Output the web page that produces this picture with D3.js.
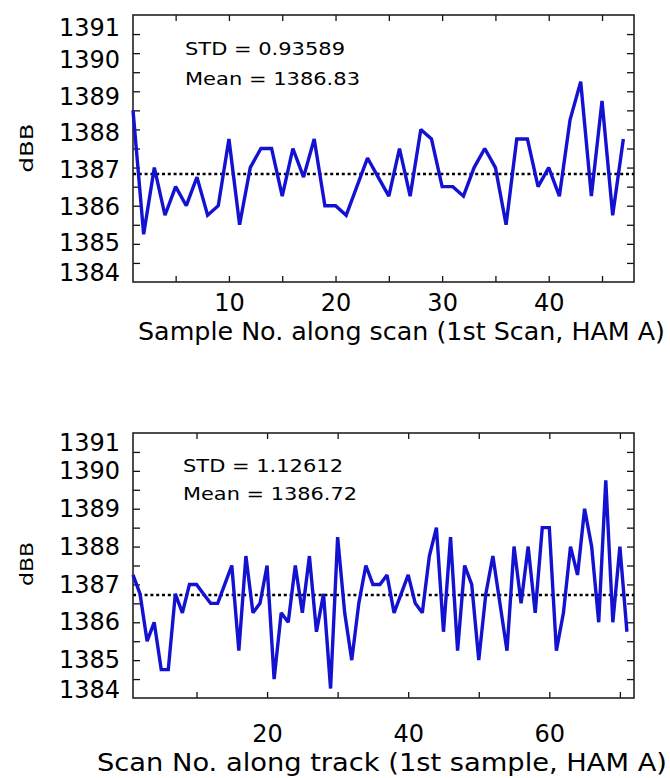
<!DOCTYPE html>
<html>
<head>
<meta charset="utf-8">
<script src="https://cdn.jsdelivr.net/npm/d3@7"></script>
<style>
  html, body { margin: 0; padding: 0; background: #fff; }
  svg { display: block; }
</style>
</head>
<body>
<svg id="chart" width="670" height="778"></svg>
<script>

// dBB of each sample along the 1st scan (HAM A)
const scanValues = [
  1388.5, 1385.25, 1387, 1385.75, 1386.5, 1386, 1386.75, 1385.75, 1386, 1387.75,
  1385.5, 1387, 1387.5, 1387.5, 1386.25, 1387.5, 1386.75, 1387.75, 1386, 1386,
  1385.75, 1386.5, 1387.25, 1386.75, 1386.25, 1387.5, 1386.25, 1388, 1387.75, 1386.5,
  1386.5, 1386.25, 1387, 1387.5, 1387, 1385.5, 1387.75, 1387.75, 1386.5, 1387,
  1386.25, 1388.25, 1389.25, 1386.25, 1388.75, 1385.75, 1387.75
];

// dBB of each scan along track (1st sample, HAM A)
const trackValues = [
  1387.25, 1386.75, 1385.5, 1386, 1384.75, 1384.75, 1386.75, 1386.25, 1387, 1387,
  1386.75, 1386.5, 1386.5, 1387, 1387.5, 1385.25, 1387.75, 1386.25, 1386.5, 1387.5,
  1384.5, 1386.25, 1386, 1387.5, 1386.25, 1387.75, 1385.75, 1386.75, 1384.25, 1388.25,
  1386.25, 1385, 1386.5, 1387.5, 1387, 1387, 1387.25, 1386.25, 1386.75, 1387.25,
  1386.5, 1386.25, 1387.75, 1388.5, 1385.75, 1388.25, 1385.25, 1387.5, 1387, 1385,
  1386.75, 1387.75, 1386.5, 1385.25, 1388, 1386.5, 1388, 1386.25, 1388.5, 1388.5,
  1385.25, 1386.25, 1388, 1387.25, 1389, 1388, 1386, 1389.75, 1386, 1388,
  1385.75
];

const scanStd = 0.93589;
const scanMean = 1386.83;
const trackStd = 1.12612;
const trackMean = 1386.72;

const yTickLabels = [1384, 1385, 1386, 1387, 1388, 1389, 1390, 1391];
const scanTickLabels = [10, 20, 30, 40];
const trackTickLabels = [20, 40, 60];

const panels = [
  {
    values: scanValues, std: scanStd, mean: scanMean,
    xDomain: [1, 48], xStep: 5, xLabels: scanTickLabels,
    title: "Sample No. along scan (1st Scan, HAM A)",
    top: 15, bottom: 282,
    yNudge: { first: 13, last: -9, base: -0.7, slope: 1.45 },
    xPad: 12, titleX: 138, titleY: 340, titleLen: 527,
    dbbY: 148, dbbLen: 49,
    statX: 185, statY: [55, 85], statLen: [160, 175]
  },
  {
    values: trackValues, std: trackStd, mean: trackMean,
    xDomain: [1, 72], xStep: 10, xLabels: trackTickLabels,
    title: "Scan No. along track (1st sample, HAM A)",
    top: 433, bottom: 698,
    yNudge: { first: 10, last: -8, base: 0, slope: 0 },
    xPad: 27, titleX: 97, titleY: 771, titleLen: 570,
    dbbY: 564, dbbLen: 44,
    statX: 183, statY: [472, 500], statLen: [160, 174]
  }
];

const svg = d3.select("#chart");
const left = 133;
const right = 634;
const font = "'DejaVu Sans', Verdana, sans-serif";

const drawPanel = (p) => {
  const x = d3.scaleLinear().domain(p.xDomain).range([left, right]);
  const y = d3.scaleLinear().domain([1384, 1391]).range([p.bottom, p.top]);
  const g = svg.append("g");

  // small inward ticks on all four sides
  const yMinor = d3.range(1384.5, 1391, 0.5);
  const xMinor = d3.range(p.xStep, p.xDomain[1], p.xStep);

  g.append("g").attr("transform", `translate(${left},0)`)
    .call(d3.axisLeft(y).tickValues(yMinor).tickSize(-7).tickFormat(""));
  g.append("g").attr("transform", `translate(${right},0)`)
    .call(d3.axisRight(y).tickValues(yMinor).tickSize(-7).tickFormat(""));
  g.append("g").attr("transform", `translate(0,${p.bottom})`)
    .call(d3.axisBottom(x).tickValues(xMinor).tickSize(-6).tickFormat(""));
  g.append("g").attr("transform", `translate(0,${p.top})`)
    .call(d3.axisTop(x).tickValues(xMinor).tickSize(-6).tickFormat(""));

  g.selectAll(".domain").remove();
  g.selectAll(".tick line").attr("stroke", "#111").attr("stroke-width", 1.3);

  g.append("rect")
    .attr("x", x.range()[0])
    .attr("y", y.range()[1])
    .attr("width", x.range()[1] - x.range()[0])
    .attr("height", y.range()[0] - y.range()[1])
    .attr("fill", "none")
    .attr("stroke", "#222")
    .attr("stroke-width", 1.6);

  // tick labels, the end ones pulled inside like the original
  const nudge = (v) => {
    const n = p.yNudge;
    if (v === yTickLabels[yTickLabels.length - 1]) return n.first;
    if (v === yTickLabels[0]) return n.last;
    return n.base + n.slope * (v - 1385);
  };

  const yLab = g.append("g")
    .attr("transform", `translate(${left},0)`)
    .call(d3.axisLeft(y).tickValues(yTickLabels).tickSize(0).tickPadding(13).tickFormat(d3.format("d")));
  yLab.select(".domain").remove();
  yLab.attr("font-size", 24).attr("font-family", font);
  yLab.selectAll("text")
    .attr("fill", "#000")
    .attr("transform", d => `translate(0,${nudge(d)})`);

  const xLab = g.append("g")
    .attr("transform", `translate(0,${p.bottom})`)
    .call(d3.axisBottom(x).tickValues(p.xLabels).tickSize(0).tickPadding(p.xPad).tickFormat(d3.format("d")));
  xLab.select(".domain").remove();
  xLab.attr("font-size", 24).attr("font-family", font);
  xLab.selectAll("text").attr("fill", "#000");

  // axis titles
  g.append("text")
    .attr("x", p.titleX)
    .attr("y", p.titleY)
    .attr("textLength", p.titleLen)
    .attr("lengthAdjust", "spacingAndGlyphs")
    .attr("font-family", font)
    .attr("font-size", 24)
    .text(p.title);

  g.append("text")
    .attr("transform", `translate(33,${p.dbbY}) rotate(-90)`)
    .attr("text-anchor", "middle")
    .attr("textLength", p.dbbLen)
    .attr("lengthAdjust", "spacingAndGlyphs")
    .attr("font-family", font)
    .attr("font-size", 18)
    .text("dBB");

  // mean level
  g.append("line")
    .attr("x1", x(p.xDomain[0]))
    .attr("x2", x(p.xDomain[1]))
    .attr("y1", y(p.mean))
    .attr("y2", y(p.mean))
    .attr("stroke", "#000")
    .attr("stroke-width", 2.6)
    .attr("stroke-dasharray", "3,2.8");

  const line = d3.line()
    .x((d, i) => x(i + 1))
    .y(d => y(d));

  g.append("path")
    .datum(p.values)
    .attr("fill", "none")
    .attr("stroke", "#1212d0")
    .attr("stroke-width", 3.4)
    .attr("stroke-linejoin", "miter")
    .attr("stroke-miterlimit", 2)
    .attr("d", line);

  // stats text
  const stats = [`STD = ${p.std.toFixed(5)}`, `Mean = ${p.mean.toFixed(2)}`];
  g.selectAll(".stat")
    .data(stats)
    .join("text")
    .attr("class", "stat")
    .attr("x", p.statX)
    .attr("y", (d, i) => p.statY[i])
    .attr("textLength", (d, i) => p.statLen[i])
    .attr("lengthAdjust", "spacingAndGlyphs")
    .attr("font-family", font)
    .attr("font-size", 17)
    .text(d => d);
};

panels.forEach(drawPanel);

</script>
</body>
</html>
